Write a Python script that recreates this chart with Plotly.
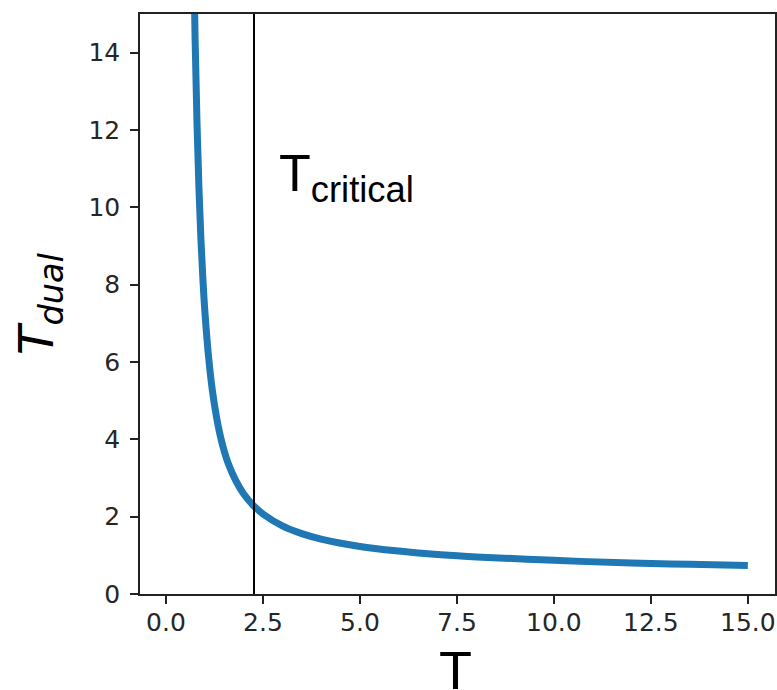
import plotly.graph_objects as go

# Temperature T and its dual temperature
T_values = [0.70, 0.75, 0.80, 0.85, 0.90, 0.95, 1.00, 1.10, 1.20, 1.30, 1.40, 1.50,
            1.60, 1.80, 2.00, 2.269, 2.50, 3.00, 3.50, 4.00, 5.00, 6.00, 7.00,
            8.00, 10.00, 12.00, 13.50, 15.00]
T_dual_values = [17.39, 14.37, 12.15, 10.48, 9.19, 8.17, 7.34, 6.11, 5.23, 4.59, 4.09, 3.70,
                 3.39, 2.93, 2.59, 2.269, 2.07, 1.76, 1.56, 1.42, 1.23, 1.11, 1.02,
                 0.96, 0.87, 0.80, 0.77, 0.74]
T_critical = 2.269
critical_line_y = [0, 15]

x_tick_vals = [0.0, 2.5, 5.0, 7.5, 10.0, 12.5, 15.0]
x_tick_text = ["0.0", "2.5", "5.0", "7.5", "10.0", "12.5", "15.0"]
y_tick_vals = [0, 2, 4, 6, 8, 10, 12, 14]

fig = go.Figure()
fig.add_trace(go.Scatter(
    x=T_values, y=T_dual_values, mode="lines",
    line=dict(color="#1f77b4", width=7, shape="spline"),
    showlegend=False, hoverinfo="skip"))
fig.add_trace(go.Scatter(
    x=[T_critical, T_critical], y=critical_line_y, mode="lines",
    line=dict(color="black", width=2),
    showlegend=False, hoverinfo="skip"))

fig.add_annotation(
    x=2.86, y=9.87, xref="x", yref="y", xanchor="left", yanchor="bottom",
    text="T<sub>critical</sub>", showarrow=False,
    font=dict(family="Liberation Sans, Arial", size=52, color="black"))

# x-axis title as an annotation so it can sit as low as in the reference
fig.add_annotation(
    x=0.497, y=-0.075, xref="paper", yref="paper", xanchor="center", yanchor="top",
    text="T", showarrow=False,
    font=dict(family="Liberation Sans, Arial", size=54, color="black"))

axis_common = dict(
    showgrid=False, zeroline=False, showline=True, linecolor="#222",
    linewidth=1.5, mirror=True, ticks="outside", ticklen=8, tickwidth=1.5,
    tickcolor="#222", automargin=False,
    tickfont=dict(family="DejaVu Sans", size=25, color="#262626"))

fig.update_xaxes(
    range=[-0.67, 15.7], tickvals=x_tick_vals, ticktext=x_tick_text,
    ticklabelstandoff=-3,
    **axis_common)
fig.update_yaxes(
    range=[0, 15], tickvals=y_tick_vals, ticklabelstandoff=5,
    title=dict(text="<i>T</i><sub><i>dual</i></sub>",
               font=dict(family="DejaVu Sans", size=48, color="black"), standoff=20),
    **axis_common)

fig.update_layout(
    width=777, height=690,
    margin=dict(l=140, r=2, t=14, b=96),
    paper_bgcolor="white", plot_bgcolor="white")

fig.write_html("out.html")
